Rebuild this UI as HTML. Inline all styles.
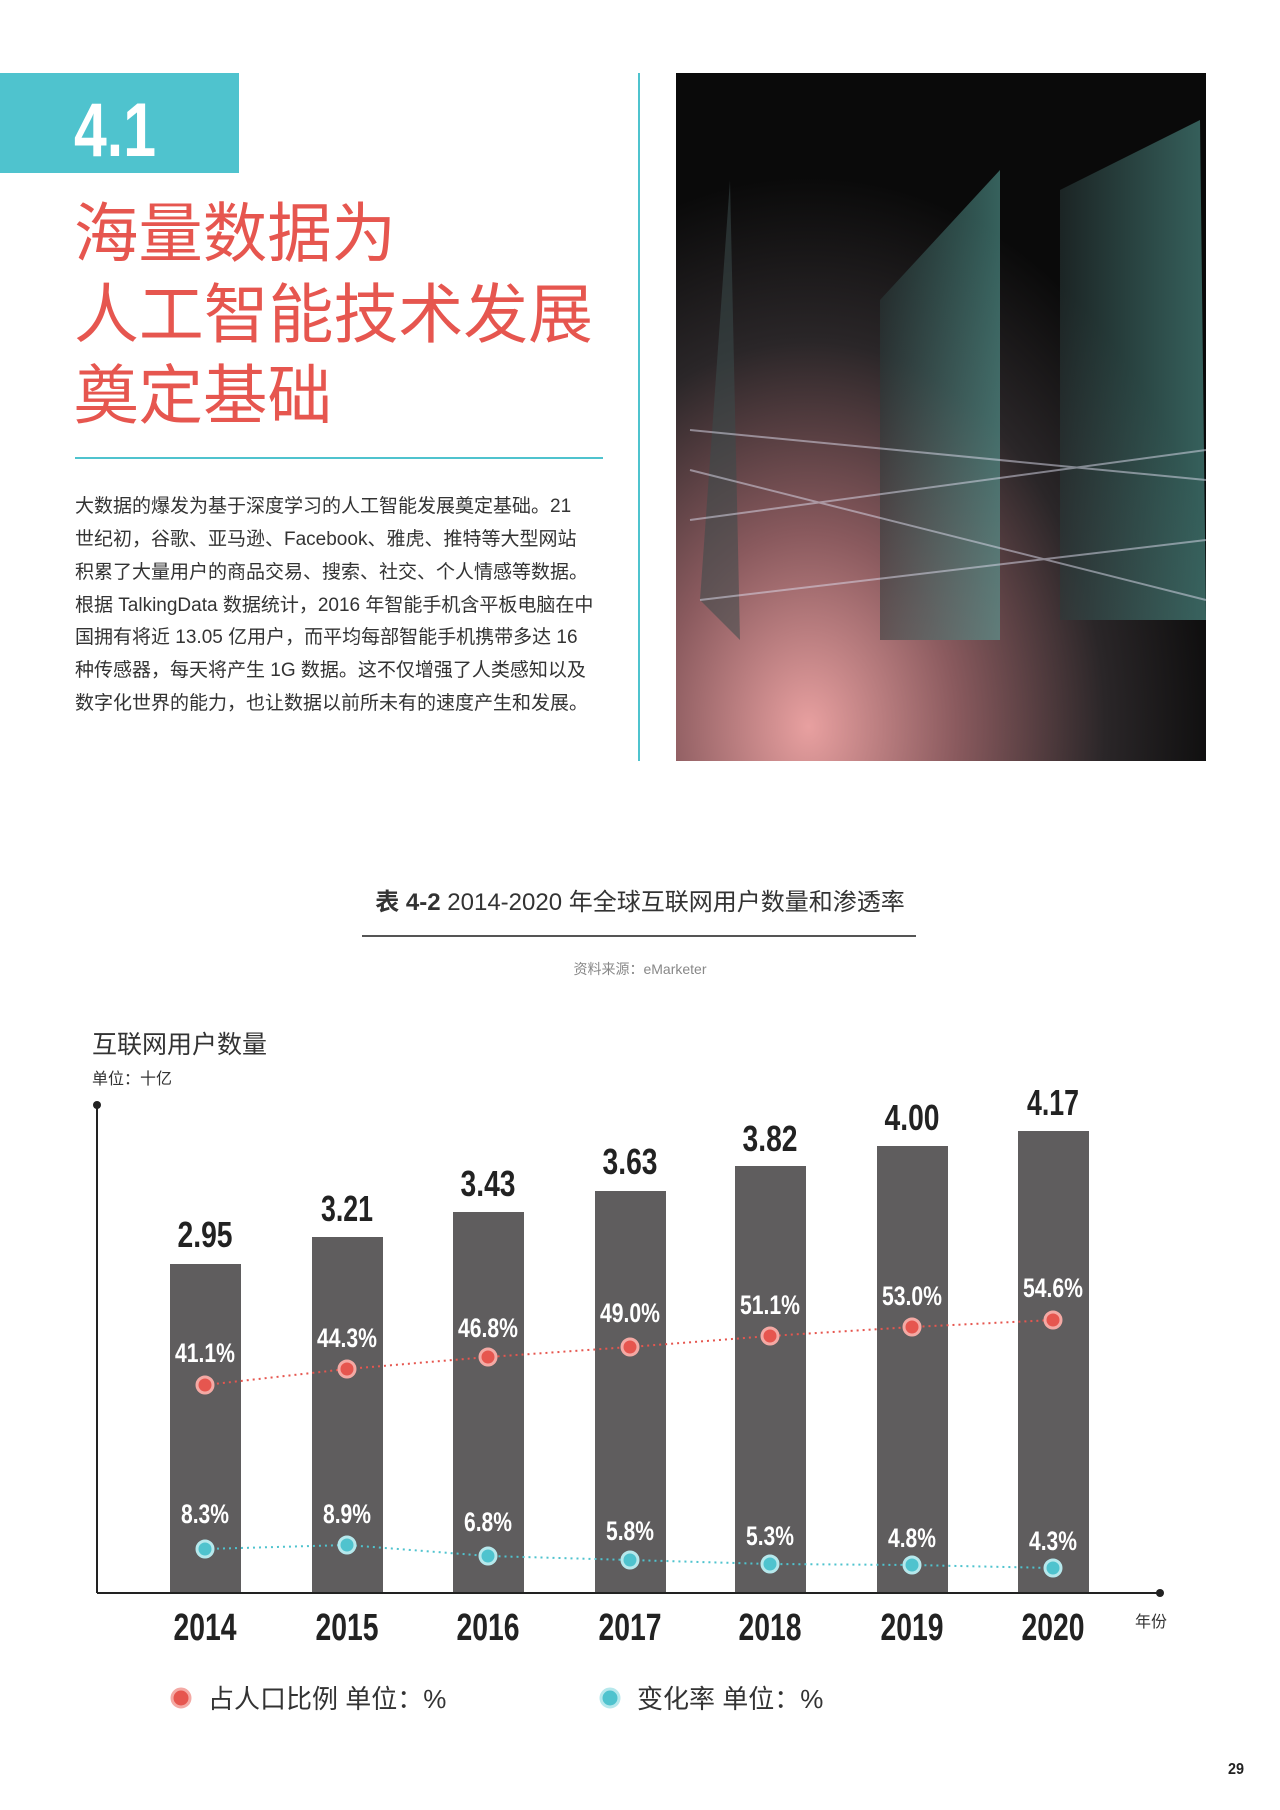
<!DOCTYPE html>
<html><head><meta charset="utf-8"><style>
html,body{margin:0;padding:0;background:#fff}
svg{display:block}
.cn{font-family:"Liberation Sans","Noto Sans CJK SC",sans-serif}
.nb{font-family:"Liberation Sans",sans-serif;font-weight:bold}
</style></head><body>
<svg width="1280" height="1810" viewBox="0 0 1280 1810" xmlns="http://www.w3.org/2000/svg">
<defs>
<radialGradient id="pk" cx="0.25" cy="0.95" r="0.8">
<stop offset="0" stop-color="#e8a0a0"/><stop offset="0.35" stop-color="#8a5a5e"/><stop offset="0.7" stop-color="#2a2628"/><stop offset="1" stop-color="#0a0a0a"/>
</radialGradient>
<linearGradient id="tl" x1="0" y1="0" x2="1" y2="0"><stop offset="0" stop-color="#2a3a3a"/><stop offset="1" stop-color="#5aa8a0"/></linearGradient>
</defs>
<rect x="0" y="73" width="239" height="100" fill="#4fc3ce"/>
<text x="74" y="156" class="nb" font-size="76" fill="#fff" textLength="82" lengthAdjust="spacingAndGlyphs">4.1</text>
<g class="cn" fill="#e6564f" font-size="65">
<text x="74" y="256" textLength="322" lengthAdjust="spacingAndGlyphs">海量数据为</text>
<text x="74" y="337" textLength="519" lengthAdjust="spacingAndGlyphs">人工智能技术发展</text>
<text x="74" y="418" textLength="258" lengthAdjust="spacingAndGlyphs">奠定基础</text>
</g>
<rect x="75" y="457" width="528" height="2" fill="#4fc3ce"/>
<g class="cn" font-size="19" fill="#333">
<text x="75" y="512">大数据的爆发为基于深度学习的人工智能发展奠定基础。21</text>
<text x="75" y="545">世纪初，谷歌、亚马逊、Facebook、雅虎、推特等大型网站</text>
<text x="75" y="578">积累了大量用户的商品交易、搜索、社交、个人情感等数据。</text>
<text x="75" y="611">根据 TalkingData 数据统计，2016 年智能手机含平板电脑在中</text>
<text x="75" y="643">国拥有将近 13.05 亿用户，而平均每部智能手机携带多达 16</text>
<text x="75" y="676">种传感器，每天将产生 1G 数据。这不仅增强了人类感知以及</text>
<text x="75" y="709">数字化世界的能力，也让数据以前所未有的速度产生和发展。</text>
</g>
<rect x="638" y="73" width="2" height="688" fill="#4fc3ce"/>
<rect x="676" y="73" width="530" height="688" fill="url(#pk)"/>
<g opacity="0.55">
<polygon points="880,300 1000,170 1000,640 880,640" fill="url(#tl)"/>
<polygon points="1060,190 1200,120 1206,620 1060,620" fill="url(#tl)"/>
<polygon points="700,600 730,180 740,640" fill="#3a4a4a"/>
</g>
<g stroke="#dde" stroke-width="2" opacity="0.5">
<line x1="690" y1="430" x2="1206" y2="480"/><line x1="690" y1="520" x2="1206" y2="450"/>
<line x1="700" y1="600" x2="1206" y2="540"/><line x1="690" y1="470" x2="1206" y2="600"/>
</g>
<text x="640" y="910" text-anchor="middle" class="cn" font-size="24" fill="#333"><tspan font-weight="bold">表 4-2</tspan>  2014-2020 年全球互联网用户数量和渗透率</text>
<rect x="362" y="935" width="554" height="2" fill="#555"/>
<text x="640" y="974" text-anchor="middle" class="cn" font-size="14" fill="#888">资料来源：eMarketer</text>
<text x="92" y="1053" class="cn" font-size="25" fill="#333">互联网用户数量</text>
<text x="92" y="1084" class="cn" font-size="16" fill="#333">单位：十亿</text>
<line x1="97" y1="1105" x2="97" y2="1593" stroke="#222" stroke-width="2"/>
<circle cx="97" cy="1105" r="4" fill="#222"/>
<line x1="97" y1="1593" x2="1160" y2="1593" stroke="#222" stroke-width="2"/>
<circle cx="1160" cy="1593" r="4" fill="#222"/>
<g fill="#5f5d5e">
<rect x="170" y="1264" width="71" height="328"/>
<rect x="312" y="1237" width="71" height="355"/>
<rect x="453" y="1212" width="71" height="380"/>
<rect x="595" y="1191" width="71" height="401"/>
<rect x="735" y="1166" width="71" height="426"/>
<rect x="877" y="1146" width="71" height="446"/>
<rect x="1018" y="1131" width="71" height="461"/>
</g>
<g class="nb" font-size="36" fill="#222" text-anchor="middle">
<text x="205" y="1247" textLength="55" lengthAdjust="spacingAndGlyphs">2.95</text><text x="347" y="1221" textLength="52" lengthAdjust="spacingAndGlyphs">3.21</text><text x="488" y="1196" textLength="55" lengthAdjust="spacingAndGlyphs">3.43</text>
<text x="630" y="1174" textLength="55" lengthAdjust="spacingAndGlyphs">3.63</text><text x="770" y="1151" textLength="55" lengthAdjust="spacingAndGlyphs">3.82</text><text x="912" y="1130" textLength="55" lengthAdjust="spacingAndGlyphs">4.00</text><text x="1053" y="1115" textLength="52" lengthAdjust="spacingAndGlyphs">4.17</text>
</g>
<polyline points="205,1385 347,1369 488,1357 630,1347 770,1336 912,1327 1053,1320" fill="none" stroke="#e6564f" stroke-width="2" stroke-dasharray="2,4"/>
<polyline points="205,1549 347,1545 488,1556 630,1560 770,1564 912,1565 1053,1568" fill="none" stroke="#4fc3ce" stroke-width="2" stroke-dasharray="2,4"/>
<g fill="#e6564f" stroke="#f4a9a4" stroke-width="3">
<circle cx="205" cy="1385" r="8"/><circle cx="347" cy="1369" r="8"/><circle cx="488" cy="1357" r="8"/><circle cx="630" cy="1347" r="8"/><circle cx="770" cy="1336" r="8"/><circle cx="912" cy="1327" r="8"/><circle cx="1053" cy="1320" r="8"/>
</g>
<g fill="#4fc3ce" stroke="#b6e8ec" stroke-width="3">
<circle cx="205" cy="1549" r="8"/><circle cx="347" cy="1545" r="8"/><circle cx="488" cy="1556" r="8"/><circle cx="630" cy="1560" r="8"/><circle cx="770" cy="1564" r="8"/><circle cx="912" cy="1565" r="8"/><circle cx="1053" cy="1568" r="8"/>
</g>
<g class="nb" font-size="27" fill="#fff" text-anchor="middle">
<text x="205" y="1362" textLength="60" lengthAdjust="spacingAndGlyphs">41.1%</text><text x="347" y="1347" textLength="60" lengthAdjust="spacingAndGlyphs">44.3%</text><text x="488" y="1337" textLength="60" lengthAdjust="spacingAndGlyphs">46.8%</text><text x="630" y="1322" textLength="60" lengthAdjust="spacingAndGlyphs">49.0%</text><text x="770" y="1314" textLength="60" lengthAdjust="spacingAndGlyphs">51.1%</text><text x="912" y="1305" textLength="60" lengthAdjust="spacingAndGlyphs">53.0%</text><text x="1053" y="1297" textLength="60" lengthAdjust="spacingAndGlyphs">54.6%</text>
<text x="205" y="1523" textLength="48" lengthAdjust="spacingAndGlyphs">8.3%</text><text x="347" y="1523" textLength="48" lengthAdjust="spacingAndGlyphs">8.9%</text><text x="488" y="1531" textLength="48" lengthAdjust="spacingAndGlyphs">6.8%</text><text x="630" y="1540" textLength="48" lengthAdjust="spacingAndGlyphs">5.8%</text><text x="770" y="1545" textLength="48" lengthAdjust="spacingAndGlyphs">5.3%</text><text x="912" y="1547" textLength="48" lengthAdjust="spacingAndGlyphs">4.8%</text><text x="1053" y="1550" textLength="48" lengthAdjust="spacingAndGlyphs">4.3%</text>
</g>
<g class="nb" font-size="38" fill="#222" text-anchor="middle">
<text x="205" y="1640" textLength="63" lengthAdjust="spacingAndGlyphs">2014</text><text x="347" y="1640" textLength="63" lengthAdjust="spacingAndGlyphs">2015</text><text x="488" y="1640" textLength="63" lengthAdjust="spacingAndGlyphs">2016</text><text x="630" y="1640" textLength="63" lengthAdjust="spacingAndGlyphs">2017</text><text x="770" y="1640" textLength="63" lengthAdjust="spacingAndGlyphs">2018</text><text x="912" y="1640" textLength="63" lengthAdjust="spacingAndGlyphs">2019</text><text x="1053" y="1640" textLength="63" lengthAdjust="spacingAndGlyphs">2020</text>
</g>
<text x="1135" y="1627" class="cn" font-size="16" fill="#333">年份</text>
<circle cx="181" cy="1698" r="9" fill="#e6564f" stroke="#f4a9a4" stroke-width="3"/>
<text x="208" y="1708" class="cn" font-size="26" fill="#333">占人口比例  单位：%</text>
<circle cx="610" cy="1698" r="9" fill="#4fc3ce" stroke="#b6e8ec" stroke-width="3"/>
<text x="637" y="1708" class="cn" font-size="26" fill="#333">变化率  单位：%</text>
<text x="1236" y="1774" class="nb" font-size="16" fill="#222" text-anchor="middle" textLength="16" lengthAdjust="spacingAndGlyphs">29</text>
</svg>
</body></html>
